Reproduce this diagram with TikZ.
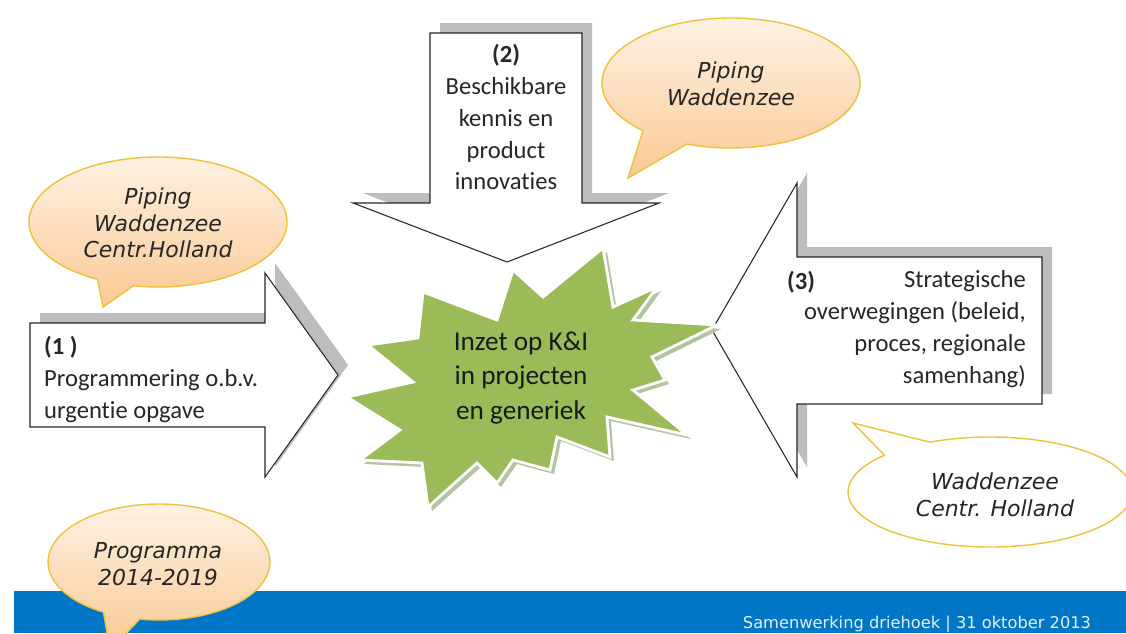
\documentclass[tikz,border=0pt]{standalone}
\usepackage{fontspec}
\setmainfont{Carlito}[Ligatures=NoCommon]
\newfontfamily\bubblefont{DejaVu Sans}
\definecolor{stargreen}{HTML}{9BBB59}
\definecolor{starshadow}{HTML}{B5C4A0}
\definecolor{shadowgray}{HTML}{BDBDBD}
\definecolor{bubbletop}{HTML}{FEF4E8}
\definecolor{bubblebot}{HTML}{FAC993}
\definecolor{bubbleline}{HTML}{F0C23A}
\definecolor{barblue}{HTML}{0077C6}
\definecolor{footertext}{HTML}{E4EEF7}
\tikzset{
  arrowshape/.style={draw=black!85, fill=white, line width=0.6pt, line join=miter},
  arrowshadow/.style={fill=shadowgray},
  orangebubble/.style={draw=bubbleline, line width=0.8pt, top color=bubbletop, bottom color=bubblebot},
  whitebubble/.style={draw=bubbleline, line width=0.8pt, fill=white},
  bubbletext/.style={font=\bubblefont\itshape\fontsize{12.5}{15.2}\selectfont, align=center, text=black!85},
  arrowtext/.style={font=\fontsize{14}{18.2}\selectfont, text=black!85},
  startext/.style={font=\fontsize{15.5}{19.5}\selectfont, align=center, text=black!90},
  footer/.style={font=\bubblefont\fontsize{9.25}{11}\selectfont, text=footertext}
}
\begin{document}
\begin{tikzpicture}[x=0.02cm,y=-0.02cm]
\useasboundingbox (0,0) rectangle (1126,633);
\fill[white] (0,0) rectangle (1126,633);
% footer bar
\fill[barblue] (14,591) rectangle (1126,633);
% arrow shadows
\begin{scope}[shift={(10,-10)}]
\fill[arrowshadow] (30,323) -- (265,323) -- (265,273) -- (338,375) -- (265,477) -- (265,427) -- (30,427) -- cycle;
\fill[arrowshadow] (430,33) -- (582,33) -- (582,203) -- (659,203) -- (507,262) -- (353,203) -- (430,203) -- cycle;
\fill[arrowshadow] (1042,257) -- (1042,404) -- (797,404) -- (797,477) -- (712,330) -- (797,183) -- (797,257) -- cycle;
\end{scope}
% arrows
\draw[arrowshape] (30,323) coordinate (a1) -- (265,323) -- (265,273) -- (338,375) coordinate (tip1) -- (265,477) -- (265,427) -- (30,427) -- cycle;
\draw[arrowshape] (430,33) coordinate (a2) -- (582,33) -- (582,203) -- (659,203) -- (507,262) coordinate (tip2) -- (353,203) -- (430,203) -- cycle;
\draw[arrowshape] (1042,257) coordinate (a3) -- (1042,404) -- (797,404) -- (797,477) -- (712,330) coordinate (tip3) -- (797,183) -- (797,257) -- cycle;
% star shadow
\begin{scope}[shift={(4,4)}]
\fill[starshadow] (423,292) -- (497,320) -- (513,270) -- (543,297) -- (603,248) -- (613,307) -- (657,287) -- (633,320) -- (717,325) -- (652,357) -- (665,380) -- (633,390) -- (687,435) -- (607,417) -- (610,457) -- (557,437) -- (550,470) -- (513,460) -- (497,483) -- (477,463) -- (428,507) -- (422,463) -- (360,460) -- (400,430) -- (347,397) -- (413,382) -- (368,345) -- (418,338) -- cycle;
\end{scope}
% star
\draw[fill=stargreen, draw=white, line width=1.6pt, line join=miter] (423,292) -- (497,320) -- (513,270) -- (543,297) -- (603,248) -- (613,307) -- (657,287) -- (633,320) -- (717,325) -- (652,357) -- (665,380) -- (633,390) -- (687,435) -- (607,417) -- (610,457) -- (557,437) -- (550,470) -- (513,460) -- (497,483) -- (477,463) -- (428,507) -- (422,463) -- (360,460) -- (400,430) -- (347,397) -- (413,382) -- (368,345) -- (418,338) -- cycle;
\node[startext] (star) at (521,378) {Inzet op K\&I\\in projecten\\en generiek};
% arrow texts
\node[arrowtext, anchor=west, align=left] (t1) at (38,379) {\textbf{(1 )}\\Programmering o.b.v.\\urgentie opgave};
\node[arrowtext, align=center] (t2) at (506,117) {\textbf{(2)}\\Beschikbare\\kennis en\\product\\innovaties};
\node[arrowtext, anchor=east, align=right] (t3) at (1032,329) {Strategische\\overwegingen (beleid,\\proces, regionale\\samenhang)};
\node[arrowtext, anchor=base west] (t3n) at (781,289) {\textbf{(3)}};
% bubbles
\draw[orangebubble] (158,222) ++(118:129 and 65) arc[start angle=118, end angle=461, x radius=129, y radius=65] -- (103,307) coordinate (b1tip) -- cycle;
\draw[orangebubble] (731,83) ++(133:129 and 65) arc[start angle=133, end angle=470, x radius=129, y radius=65] -- (628,178) coordinate (b2tip) -- cycle;
\draw[whitebubble] (990,492) ++(245:142 and 55) arc[start angle=245, end angle=582, x radius=142, y radius=55] -- (853,423) coordinate (b3tip) -- cycle;
\draw[orangebubble] (159,562) ++(120:111 and 58) arc[start angle=120, end angle=460, x radius=111, y radius=58] -- (110,650) coordinate (b4tip) -- cycle;
\node[bubbletext] (bt1) at (158,223) {Piping\\Waddenzee\\Centr.Holland};
\node[bubbletext] (bt2) at (731,84) {Piping\\Waddenzee};
\node[bubbletext] (bt3) at (995,495) {Waddenzee\\Centr. Holland};
\node[bubbletext] (bt4) at (158,564) {Programma\\2014-2019};
% footer text
\node[footer, anchor=base] (foot) at (917,628.5) {Samenwerking driehoek | 31 oktober 2013};
\end{tikzpicture}
\end{document}
